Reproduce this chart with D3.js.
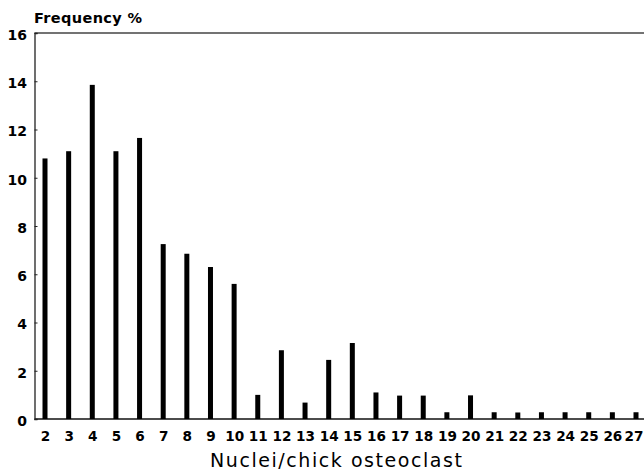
<!DOCTYPE html>
<html><head><meta charset="utf-8">
<script src="https://cdn.jsdelivr.net/npm/d3@7"></script>
<style>body{margin:0;background:#fff}svg{display:block}text{font-family:"DejaVu Sans",sans-serif;fill:#000}</style>
</head><body><svg id="c" width="644" height="473"></svg>
<script>
const categories = ["2","3","4","5","6","7","8","9","10","11","12","13","14","15","16","17","18","19","20","21","22","23","24","25","26","27"];
const frequency = [10.8,11.1,13.85,11.1,11.65,7.25,6.85,6.3,5.6,1.0,2.85,0.68,2.45,3.15,1.1,0.97,0.97,0.28,0.98,0.28,0.27,0.28,0.28,0.28,0.28,0.28];
const yTicks = [0,2,4,6,8,10,12,14,16];
const yTitle = "Frequency %";
const xTitle = "Nuclei/chick osteoclast";

const svg = d3.select("#c");
const x = d3.scalePoint().domain(categories).range([45, 636]);
const y = d3.scaleLinear().domain([0,16]).range([419, 33]);
const left = 34.5, right = 644;
const font = '"DejaVu Sans",sans-serif';

// frame: top line
svg.append("line").attr("x1",left).attr("x2",right).attr("y1",y(16)).attr("y2",y(16))
  .attr("stroke","#444").attr("stroke-width",1.3);
// baseline
svg.append("line").attr("x1",left).attr("x2",right).attr("y1",y(0)).attr("y2",y(0))
  .attr("stroke","#111").attr("stroke-width",1.3);

// y axis
const yAxis = d3.axisLeft(y).tickValues(yTicks).tickSize(-3).tickPadding(7.5);
const gy = svg.append("g").attr("transform",`translate(${left},0)`).call(yAxis);
gy.select(".domain").attr("stroke","#222").attr("stroke-width",1.3);
gy.selectAll(".tick line").attr("stroke","#222");
gy.selectAll(".tick text").attr("font-size",14).attr("font-weight","bold")
  .attr("font-family",font).attr("dy","0.45em");

// x axis labels
const xAxis = d3.axisBottom(x).tickSize(0).tickPadding(12);
const gx = svg.append("g").attr("transform",`translate(0,${y(0)})`).call(xAxis);
gx.select(".domain").remove();
gx.selectAll(".tick text").attr("font-size",13.6).attr("font-weight","bold")
  .attr("font-family",font)
  .attr("dx",(d,i,n)=> i===n.length-1 ? -2.5 : 0);

// bars
svg.append("g").selectAll("rect").data(frequency).join("rect")
  .attr("x",(d,i)=>x(categories[i])-2.5).attr("width",5)
  .attr("y",d=>y(d)).attr("height",d=>y(0)-y(d)).attr("fill","#000");

// titles
svg.append("text").attr("x",34).attr("y",23).attr("font-size",14.5).attr("font-weight","bold")
  .attr("textLength",108).attr("lengthAdjust","spacing").text(yTitle);
svg.append("text").attr("x",210).attr("y",467).attr("font-size",19)
  .attr("textLength",252).attr("lengthAdjust","spacing").text(xTitle);
</script></body></html>
